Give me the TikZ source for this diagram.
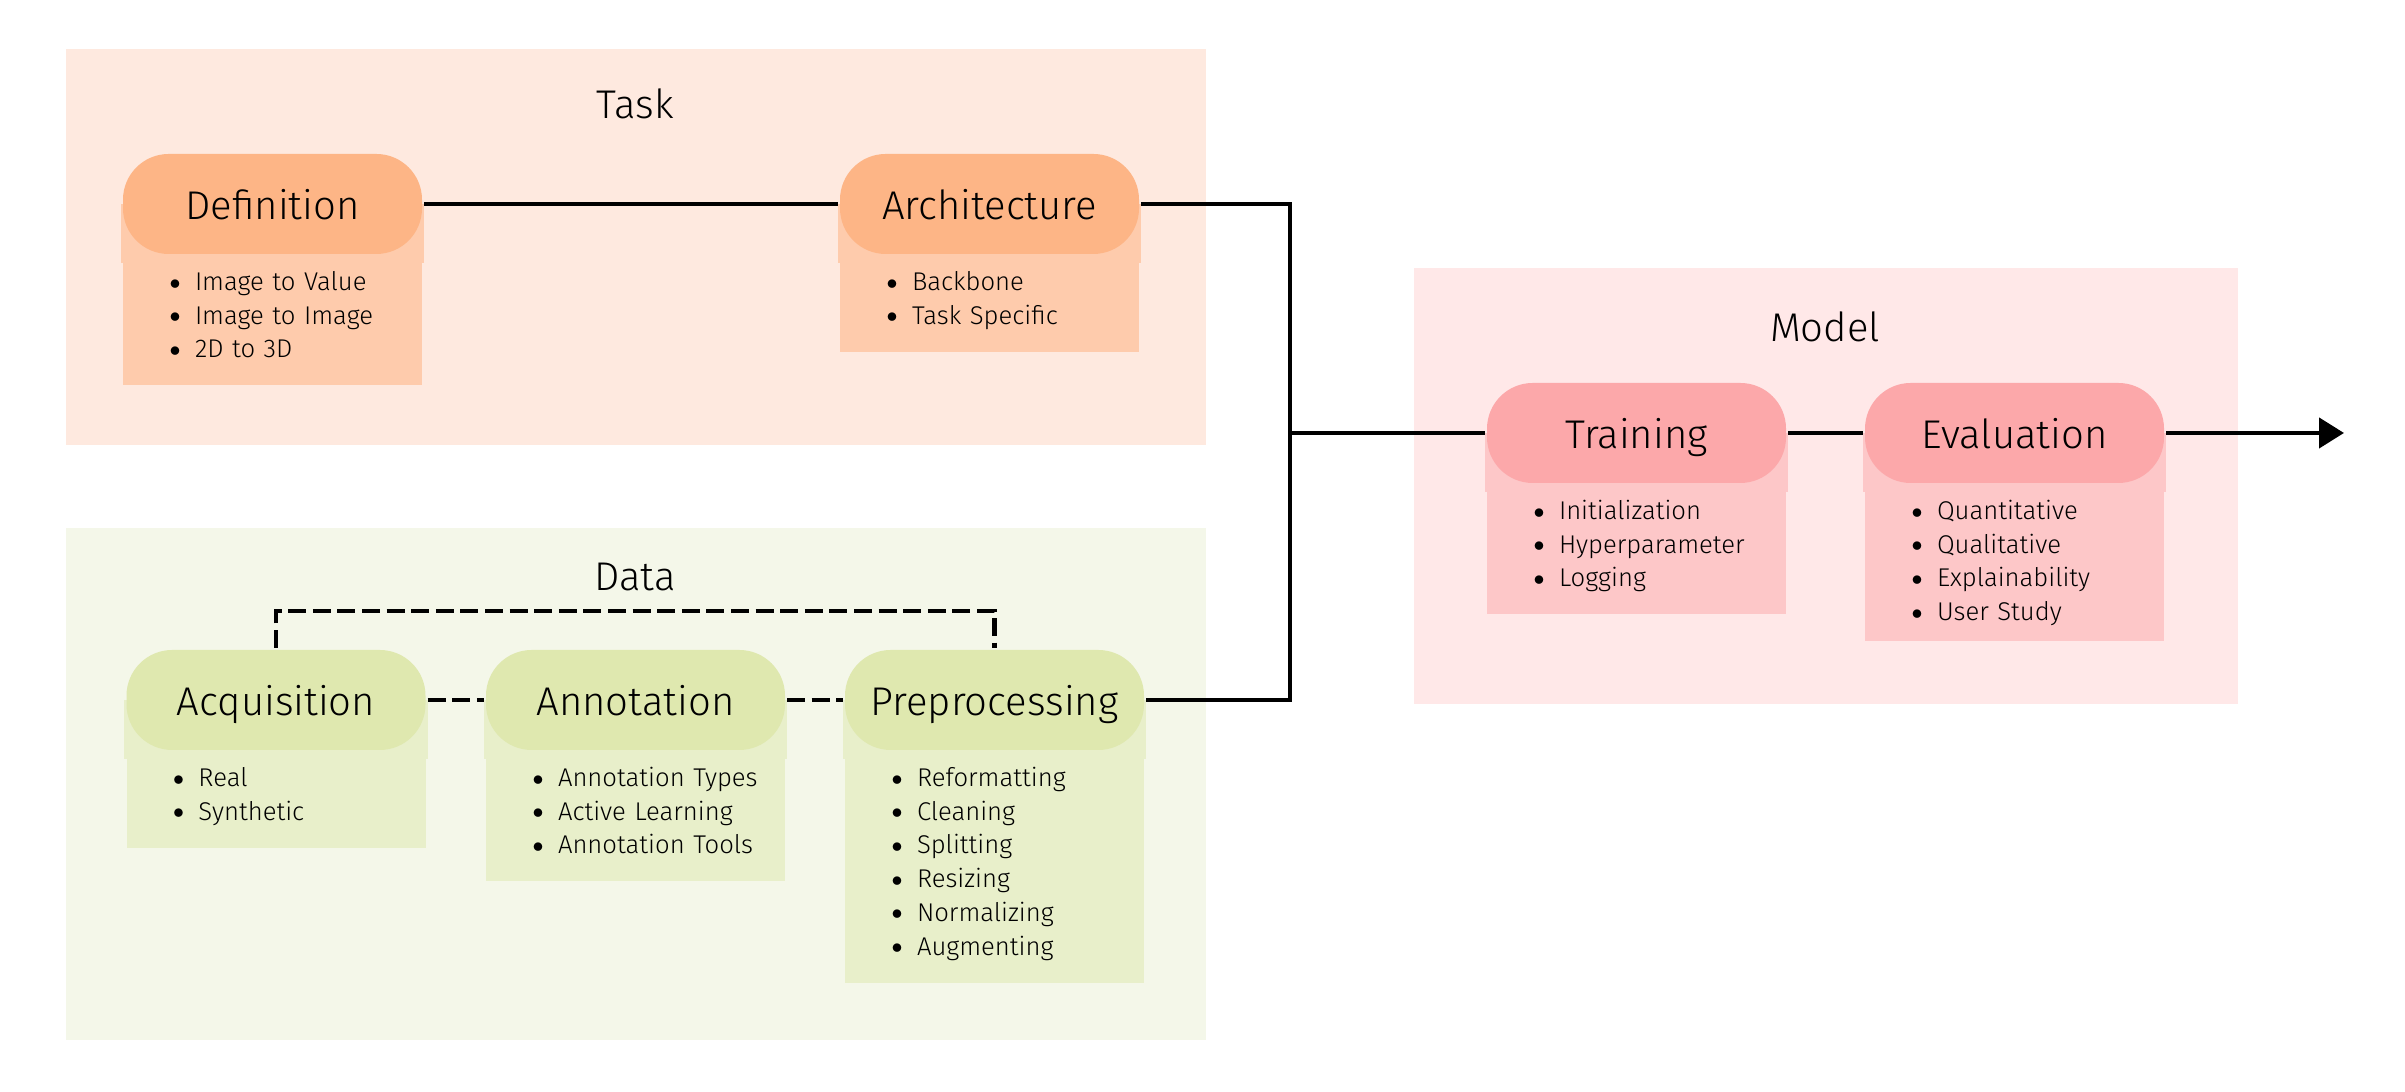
\documentclass[tikz,border=0pt]{standalone}
\usepackage{fontspec}
\IfFontExistsTF{Fira Sans Light}{\setmainfont{Fira Sans Light}}{\setmainfont{Fira Sans}}
\usetikzlibrary{arrows.meta,backgrounds}

\definecolor{taskbg}{HTML}{FEE9DF}
\definecolor{taskhead}{HTML}{FDB586}
\definecolor{taskbody}{HTML}{FECBAC}
\definecolor{databg}{HTML}{F4F7E9}
\definecolor{datahead}{HTML}{DFE8AF}
\definecolor{databody}{HTML}{E8EFCA}
\definecolor{modelbg}{HTML}{FFE8E8}
\definecolor{modelhead}{HTML}{FCA8AA}
\definecolor{modelbody}{HTML}{FDC7C8}

\newcommand{\itm}[1]{\strut\hspace*{0.455cm}\makebox[0.265cm][l]{\raisebox{0.09em}{$\scriptstyle\bullet$}}#1}

\tikzset{
  list pad/.initial=0.19cm,
  title/.style={font=\fontsize{11.4}{14}\selectfont},
  head/.style={fill=#1, rounded corners=13pt, minimum width=2.99cm, minimum height=1cm,
    inner sep=0pt, text height=1.15em, text depth=0.24em, font=\fontsize{11.4}{14}\selectfont},
  body/.style={fill=#1, anchor=north, text width=2.99cm, inner xsep=0pt, inner ysep=0.085cm,
    align=left, font=\fontsize{7.3}{9.6}\selectfont,
    execute at end node={\rule[-\pgfkeysvalueof{/tikz/list pad}]{0pt}{0pt}}},
  dashline/.style={dash pattern=on 5.1pt off 1.9pt}
}

\begin{document}
\begin{tikzpicture}[line width=1.2pt]
  \useasboundingbox (0,0) rectangle (24.05,10.92);

  % group titles
  \node[title] (tasktitle) at (6.35,9.88) {Task};
  \node[title] (datatitle) at (6.35,5.15) {Data};
  \node[title] (modeltitle) at (18.25,7.65) {Model};

  % stages
  \node[head=taskhead] (def) at (2.725,8.88) {Definition};
  \node[head=taskhead] (arch) at (9.895,8.88) {Architecture};
  \node[head=datahead] (acq) at (2.76,3.92) {Acquisition};
  \node[head=datahead] (ann) at (6.355,3.92) {Annotation};
  \node[head=datahead] (prep) at (9.945,3.92) {Preprocessing};
  \node[head=modelhead] (train) at (16.365,6.59) {Training};
  \node[head=modelhead] (eval) at (20.145,6.59) {Evaluation};

  % lists under the stages
  \node[body=taskbody] (defl) at (def.south) {\itm{Image to Value}\\\itm{Image to Image}\\\itm{2D to 3D}};
  \node[body=taskbody] (archl) at (arch.south) {\itm{Backbone}\\\itm{Task Specific}};
  \node[body=databody] (acql) at (acq.south) {\itm{Real}\\\itm{Synthetic}};
  \node[body=databody] (annl) at (ann.south) {\itm{Annotation Types}\\\itm{Active Learning}\\\itm{Annotation Tools}};
  \node[body=databody] (prepl) at (prep.south) {\itm{Reformatting}\\\itm{Cleaning}\\\itm{Splitting}\\\itm{Resizing}\\\itm{Normalizing}\\\itm{Augmenting}};
  \node[body=modelbody] (trainl) at (train.south) {\itm{Initialization}\\\itm{Hyperparameter}\\\itm{Logging}};
  \node[body=modelbody, list pad=0.12cm] (evall) at (eval.south) {\itm{Quantitative}\\\itm{Qualitative}\\\itm{Explainability}\\\itm{User Study}};

  \begin{scope}[on background layer]
    \fill[taskbg] (0.66,6.47) rectangle (12.06,10.43);
    \fill[databg] (0.66,0.52) rectangle (12.06,5.64);
    \fill[modelbg] (14.14,3.88) rectangle (22.38,8.24);
    \foreach \n/\c in {def/taskbody, arch/taskbody, acq/databody, ann/databody,
                       prep/databody, train/modelbody, eval/modelbody}
      \fill[\c] (\n.west) rectangle ([yshift=-2pt]\n.south east);
  \end{scope}

  % connectors
  \coordinate (bus) at (12.9,6.59);
  \coordinate (out) at (23.44,6.59);
  \draw (def) -- (arch);
  \draw (arch.east) -| (bus) |- (prep.east);
  \draw (bus) -- (train);
  \draw (train) -- (eval);
  \draw[-{Triangle[length=0.25cm,width=0.3cm]}] (eval) -- (out);
  \draw[dashline] (acq) -- (ann);
  \draw[dashline] (ann) -- (prep);
  \draw[dashline] (acq.north) -- ++(0,0.37) -| (prep.north);
\end{tikzpicture}
\end{document}
